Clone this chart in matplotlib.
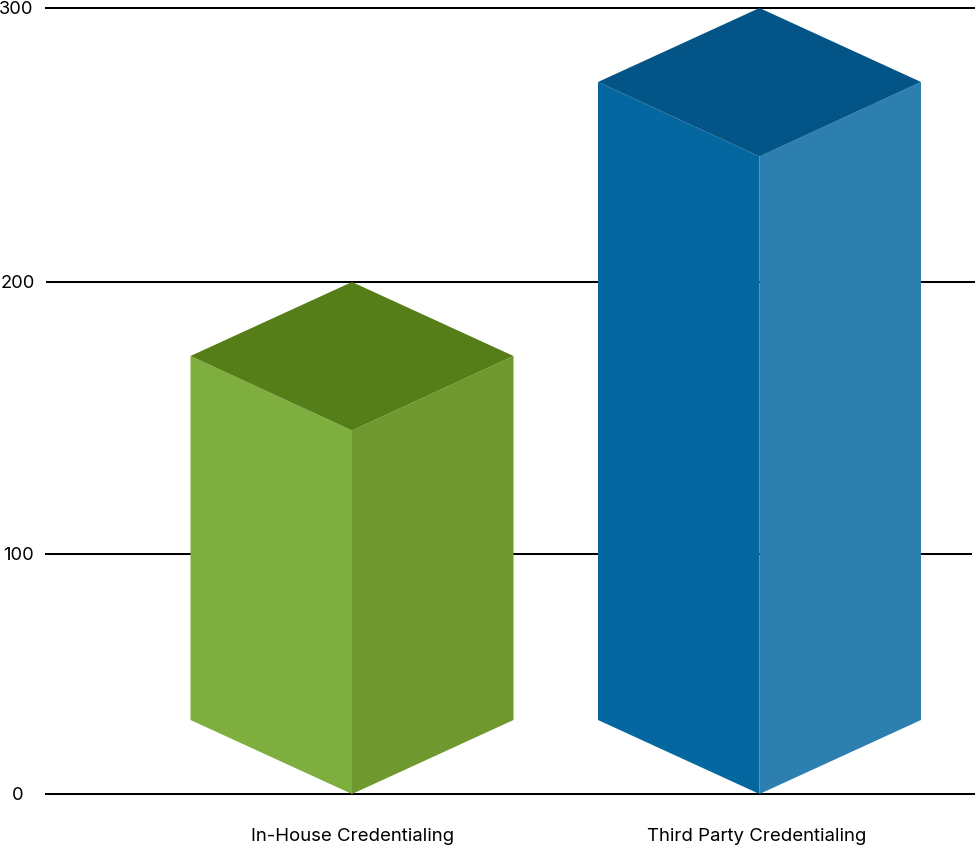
import numpy as np
import matplotlib
matplotlib.use('Agg')
import matplotlib.pyplot as plt
from matplotlib.patches import Polygon
from matplotlib.transforms import IdentityTransform

categories = ['In-House Credentialing', 'Third Party Credentialing']
values = [200, 300]
ticks = [0, 100, 200, 300]

front_colors = ['#7eae3e', '#0467a0']
side_colors = ['#6f992e', '#2c7faf']
top_colors = ['#567e18', '#045587']

# the source axis is not evenly spaced, so map value -> pixel height by hand
knot_vals = [-22.08, 0, 100, 200, 300, 302.92]
knot_px = [0, 53, 293, 565, 839, 847]

W, H = 975, 847
centers = [352, 759.5]
label_x = [352.5, 756.5]
half_w = 161.5
rise = 74
grid_x = [(45, 975), (45, 972), (46, 975), (45, 975)]
tick_x = [18, 18.5, 18, 16.5]


def forward(v):
    return np.interp(v, knot_vals, knot_px)


def inverse(p):
    return np.interp(p, knot_px, knot_vals)


plt.rcParams['font.family'] = ['Inter', 'DejaVu Sans']

fig = plt.figure(figsize=(W / 100, H / 100), dpi=100)
ax = fig.add_axes([0, 0, 1, 1])
ax.set_yscale('function', functions=(forward, inverse))
ax.set_xlim(0, W)
ax.set_ylim(knot_vals[0], knot_vals[-1])
ax.axis('off')

for t, (x0, x1), tx in zip(ticks, grid_x, tick_x):
    ax.plot([x0, x1], [t, t], color='black', lw=1.45, zorder=1, solid_capstyle='butt')
    ax.text(tx, inverse(forward(t) - 1), str(t), ha='center', va='center', fontsize=13.2, color='black')

base_y = ax.transData.transform((0, 0))[1]
for i, val in enumerate(values):
    cx = ax.transData.transform((centers[i], val))[0]
    top = ax.transData.transform((centers[i], val))[1]
    l, r = cx - half_w, cx + half_w
    # isometric box: front corner sits on the baseline, back corner on the value
    faces = [
        ([(l, top - rise), (cx, top - 2 * rise - 0.5), (cx, base_y), (l, base_y + rise)], front_colors[i]),
        ([(cx, top - 2 * rise - 0.5), (r, top - rise), (r, base_y + rise), (cx, base_y)], side_colors[i]),
        ([(cx, top), (r, top - rise), (cx, top - 2 * rise - 0.5), (l, top - rise)], top_colors[i]),
    ]
    for pts, c in faces:
        ax.add_patch(Polygon(pts, closed=True, facecolor=c, edgecolor='none',
                             transform=IdentityTransform(), zorder=2))
    ax.text(label_x[i], inverse(H - 836), categories[i], ha='center', va='center',
            fontsize=13.4, color='black')

fig.savefig('out.png', dpi=100)
